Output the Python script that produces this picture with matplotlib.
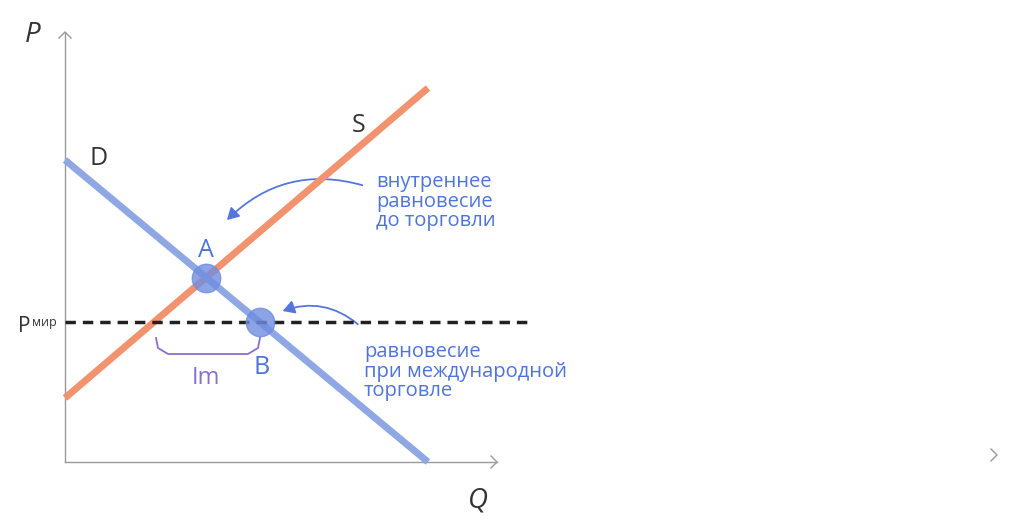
import matplotlib.pyplot as plt
from matplotlib.patches import FancyArrowPatch

# Values in chart units (Q right, P up, origin at axes corner)
supply_q = [0, 363]
supply_p = [64, 374]
demand_q = [0, 363]
demand_p = [302, 0]
p_world = 140
world_q = [0, 463]
eq_points_q = [141, 195]
eq_points_p = [184, 140]
eq_labels = ["A", "B"]

BLUE_TXT = "#4F74D9"
FONT = "Open Sans"

fig = plt.figure(figsize=(10.24, 5.28), dpi=100)
ax = fig.add_axes([0, 0, 1, 1])
ax.set_xlim(-65, 959)
ax.set_ylim(-66, 462)
ax.axis("off")

# axes with arrow heads
ax.plot([0, 432], [0, 0], color="#999999", lw=1)
ax.plot([0, 0], [0, 430], color="#999999", lw=1)
ax.plot([426, 432, 426], [6, 0, -6], color="#999999", lw=1)
ax.plot([-6, 0, 6], [424, 430, 424], color="#999999", lw=1)
ax.plot([926, 932, 926], [13, 7, 1], color="#999999", lw=1)
ax.text(-40, 420, "P", fontsize=20, style="italic", color="#333333", family=FONT)
ax.text(403, -45, "Q", fontsize=20, style="italic", color="#333333", family=FONT)

ax.plot(supply_q, supply_p, color="#F0936E", lw=5, solid_capstyle="butt")
ax.plot(demand_q, demand_p, color="#8FA7E3", lw=5, solid_capstyle="butt")
ax.plot(world_q, [p_world, p_world], color="#222222", lw=2.5, ls=(0, (3, 2)))
ax.scatter(eq_points_q, eq_points_p, s=420, color="#6F8DE0", alpha=0.8, zorder=5)

ax.text(287, 330, "S", fontsize=18, color="#333333", family=FONT)
ax.text(24, 297, "D", fontsize=18, color="#333333", family=FONT)
ax.text(133, 205, eq_labels[0], fontsize=18, color=BLUE_TXT, family=FONT)
ax.text(189, 88, eq_labels[1], fontsize=18, color=BLUE_TXT, family=FONT)
ax.text(-47, 130, "P", fontsize=15, color="#333333", family=FONT)
ax.text(-33, 136, "мир", fontsize=9, color="#333333", family=FONT)

# Im bracket
ax.plot([91, 93, 103, 183, 193, 195], [124, 114, 108, 108, 114, 124], color="#8A6FD0", lw=1.3)
ax.text(127, 78, "Im", fontsize=17, color="#8A6FD0", family=FONT)

ax.text(311, 236, "внутреннее\nравновесие\nдо торговли", fontsize=14.5, color=BLUE_TXT,
        family=FONT, linespacing=0.95)
ax.text(299, 66, "равновесие\nпри международной\nторговле", fontsize=14.5, color=BLUE_TXT,
        family=FONT, linespacing=0.95)

ax.add_patch(FancyArrowPatch((300, 276), (160, 240), connectionstyle="arc3,rad=0.3",
                             arrowstyle="-|>,head_length=7,head_width=4", color="#5577DD", lw=1.3))
ax.add_patch(FancyArrowPatch((295, 136), (215, 150), connectionstyle="arc3,rad=0.3",
                             arrowstyle="-|>,head_length=7,head_width=4", color="#5577DD", lw=1.3))

fig.savefig("out.png", dpi=100)
